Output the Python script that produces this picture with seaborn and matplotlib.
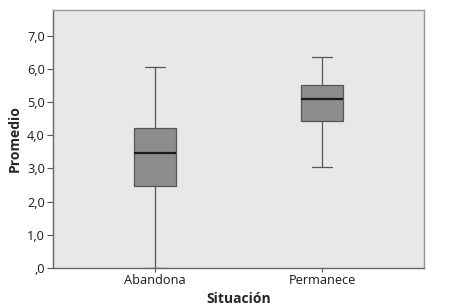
import pandas as pd
import numpy as np
import matplotlib
matplotlib.use('Agg')
import matplotlib.pyplot as plt
import seaborn as sns
from matplotlib.ticker import FuncFormatter

# five-number summaries
situacion = ['Abandona', 'Permanece']
minimo = [0.0, 3.05]
q1 = [2.48, 4.44]
mediana = [3.46, 5.08]
q3 = [4.21, 5.51]
maximo = [6.07, 6.37]

rows = []
for i, s in enumerate(situacion):
    for v in [minimo[i], q1[i], mediana[i], q3[i], maximo[i]]:
        rows.append({'Situación': s, 'Promedio': v})
df = pd.DataFrame(rows)

sns.set_style('white')
plt.rcParams['font.family'] = ['Open Sans', 'DejaVu Sans']

fig = plt.figure(figsize=(4.5, 3.08), dpi=100)
ax = fig.add_axes([0.118, 0.130, 0.824, 0.838])
ax.set_facecolor('#e8e8e8')

sns.boxplot(data=df, x='Situación', y='Promedio', order=situacion,
            whis=(0, 100), width=0.25, color='#8c8c8c', saturation=1,
            linecolor='#555555', linewidth=0.9, ax=ax,
            medianprops={'color': '#1a1a1a', 'linewidth': 1.6})

ax.set_xlim(-0.61, 1.61)
ax.set_ylim(0, 7.78)
ax.set_yticks(np.arange(0, 8))
ax.yaxis.set_major_formatter(FuncFormatter(
    lambda v, p: ('%.1f' % v).replace('.', ',').lstrip('0') if v < 1 else ('%.1f' % v).replace('.', ',')))

ax.tick_params(axis='y', length=4, width=0.8, color='#555555', pad=2,
               labelsize=9.2, labelcolor='#1a1a1a', left=True)
ax.tick_params(axis='x', length=3, width=0.8, color='#555555', pad=1,
               labelsize=9.2, labelcolor='#1a1a1a', bottom=True)
ax.set_xlabel('Situación', fontsize=10, fontweight='bold', labelpad=4)
ax.set_ylabel('Promedio', fontsize=10, fontweight='bold', labelpad=4)

for side in ['top', 'right']:
    ax.spines[side].set_color('#9a9a9a')
    ax.spines[side].set_linewidth(1.0)
for side in ['left', 'bottom']:
    ax.spines[side].set_color('#666666')
    ax.spines[side].set_linewidth(1.0)

fig.savefig('out.png', dpi=100)
